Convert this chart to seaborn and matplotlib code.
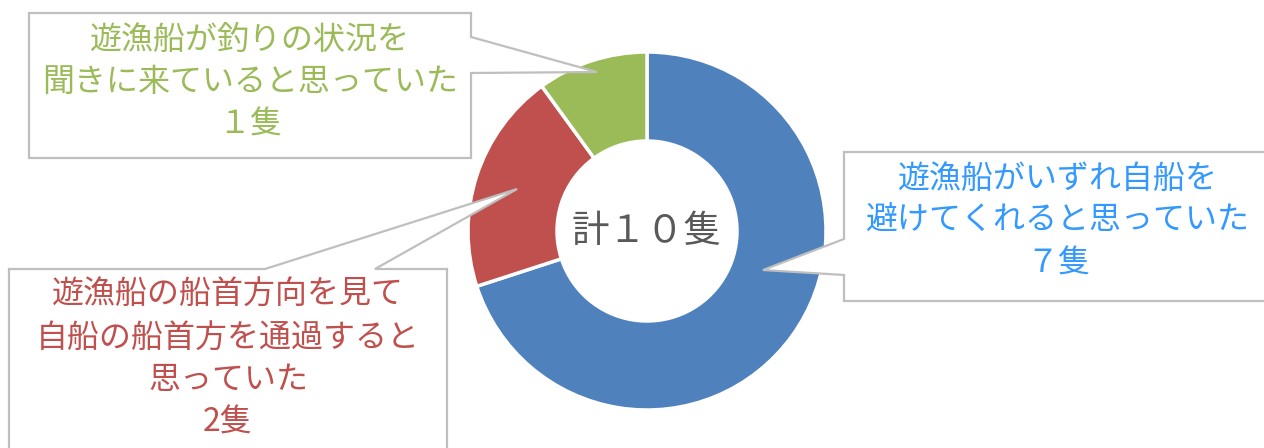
import matplotlib
matplotlib.use('Agg')
import matplotlib.pyplot as plt
from matplotlib.patches import Polygon
import seaborn as sns

# データ
categories = ['避けてくれる', '船首方を通過', '状況を聞きに来た']
counts = [7, 2, 1]
labels = [
    '遊漁船がいずれ自船を\n避けてくれると思っていた\n７隻',
    '遊漁船の船首方向を見て\n自船の船首方を通過すると\n思っていた\n2隻',
    '遊漁船が釣りの状況を\n聞きに来ていると思っていた\n１隻',
]
center_label = '計１０隻'
slice_colors = ['#4F81BD', '#C0504D', '#9BBB59']
text_colors = ['#3399FF', '#C0504D', '#9BBB59']

W, H = 1264, 448

sns.set_theme(style='white')
plt.rcParams['font.family'] = ['Noto Sans CJK JP', 'DejaVu Sans']

fig = plt.figure(figsize=(W / 100, H / 100), dpi=100)
ax = fig.add_axes([0, 0, 1, 1])

# ドーナツ (y は上から測ったピクセルを変換)
ax.pie(counts, colors=slice_colors, startangle=90, counterclock=False,
       radius=179, center=(647, H - 231),
       wedgeprops=dict(width=89, edgecolor='white', linewidth=2.5))
ax.set_xlim(0, W)
ax.set_ylim(0, H)
ax.set_aspect('equal')
ax.axis('off')

ax.text(647, H - 231, center_label, ha='center', va='center',
        fontsize=27, color='#595959')

# 吹き出し (ピクセル座標, 上から)
callouts = [
    [(844, 152), (1280, 152), (1280, 301), (844, 301), (844, 275), (763, 270), (844, 239)],
    [(9, 269), (265, 269), (517, 189), (375, 269), (447, 269), (447, 460), (9, 460)],
    [(29, 13), (471, 13), (471, 37), (597, 72), (471, 73), (471, 158), (29, 158)],
]
text_pos = [(1058, 221), (228, 359), (250, 82)]

for pts, lab, col, (tx, ty) in zip(callouts, labels, text_colors, text_pos):
    poly = Polygon([(x, H - y) for x, y in pts], closed=True,
                   facecolor='white', edgecolor='#BFBFBF', linewidth=1.6, zorder=5)
    ax.add_patch(poly)
    ax.text(tx, H - ty, lab, ha='center', va='center', fontsize=23,
            color=col, linespacing=1.42, zorder=6)

plt.savefig('out.png', dpi=100)
